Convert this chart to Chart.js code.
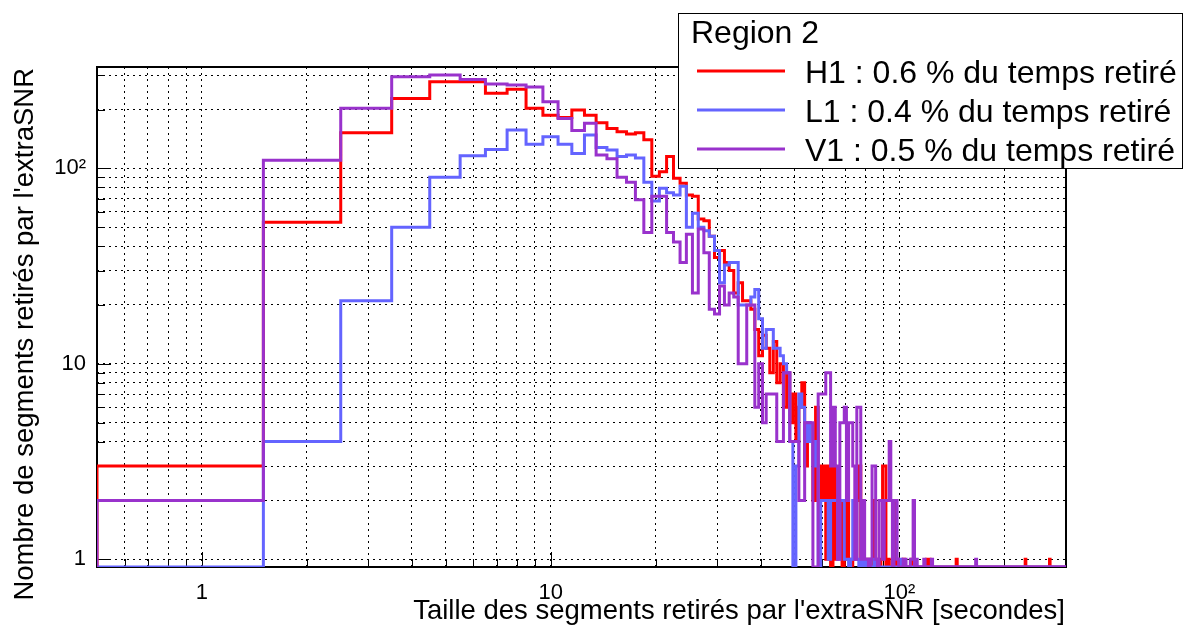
<!DOCTYPE html>
<html lang="fr">
<head>
<meta charset="UTF-8">
<title>Region 2</title>
<script src="https://cdn.jsdelivr.net/npm/chart.js"></script>
<style>
  body { margin: 0; background: #ffffff; }
  #wrap { width: 1183px; height: 628px; }
</style>
</head>
<body>
<div id="wrap"><canvas id="hist"></canvas></div>
<script>
// one bin per second, centred on 1 .. 300 s
const binLow = 0.5;
const binWidth = 1;

const h1Counts = [
  3, 53, 152, 228, 277, 277, 242, 254, 203, 187, 182, 199, 187, 171, 160, 154, 150, 152, 140, 91,
  96, 115, 89, 84, 73, 72, 55, 54, 45, 35, 38, 33, 30, 23, 26, 21, 21, 19, 15, 11,
  14, 12, 9, 13, 8, 10, 6, 9, 5, 7, 4, 6, 8, 3, 5, 4, 2, 6, 3, 2,
  3, 1, 3, 0, 3, 1, 2, 2, 0, 1, 2, 1, 0, 1, 1, 2, 3, 1, 0, 1,
  0, 1, 1, 0, 2, 0, 1, 0, 1, 3, 3, 0, 1, 0, 0, 1, 2, 0, 1, 0,
  0, 0, 1, 0, 0, 0, 0, 0, 1, 0, 0, 0, 0, 0, 0, 0, 0, 0, 0, 1,
  0, 1, 0, 0, 0, 0, 0, 0, 0, 0, 0, 0, 0, 0, 0, 0, 0, 0, 0, 0,
  0, 0, 0, 0, 0, 1, 0, 0, 0, 0, 0, 0, 0, 0, 0, 0, 0, 0, 0, 0,
  0, 0, 0, 0, 0, 0, 0, 0, 0, 0, 0, 0, 0, 0, 0, 0, 0, 0, 0, 0,
  0, 0, 0, 0, 0, 0, 0, 0, 0, 0, 0, 0, 0, 0, 0, 0, 0, 0, 0, 0,
  0, 0, 0, 0, 0, 0, 0, 0, 0, 0, 0, 0, 0, 0, 0, 0, 0, 0, 0, 0,
  0, 0, 0, 0, 0, 0, 0, 0, 0, 1, 0, 0, 0, 0, 0, 0, 0, 0, 0, 0,
  0, 0, 0, 0, 0, 0, 0, 0, 0, 0, 0, 0, 0, 0, 0, 0, 0, 0, 0, 0,
  0, 0, 0, 0, 0, 0, 0, 0, 0, 1, 0, 0, 0, 0, 0, 0, 0, 0, 0, 0,
  0, 0, 0, 0, 0, 0, 0, 0, 0, 0, 0, 0, 0, 0, 0, 0, 0, 0, 0, 0
];

const l1Counts = [
  0, 4, 21, 50, 90, 116, 125, 157, 133, 145, 133, 119, 148, 128, 124, 115, 117, 113, 85, 68,
  79, 75, 73, 81, 50, 59, 50, 48, 45, 38, 26, 32, 33, 33, 20, 20, 20, 22, 24, 17,
  12, 15, 15, 12, 12, 11, 10, 9, 4, 0, 3, 7, 6, 4, 5, 4, 3, 4, 0, 2,
  2, 2, 1, 2, 2, 2, 1, 2, 2, 1, 1, 0, 1, 2, 2, 1, 0, 1, 0, 1,
  0, 1, 0, 0, 1, 0, 0, 0, 0, 0, 0, 0, 0, 0, 0, 0, 0, 0, 0, 0,
  1, 0, 0, 0, 0, 0, 0, 0, 0, 0, 0, 0, 0, 0, 0, 0, 0, 0, 0, 0,
  0, 0, 0, 0, 0, 0, 0, 0, 0, 0, 0, 0, 0, 0, 0, 0, 0, 0, 0, 0,
  0, 0, 0, 0, 0, 0, 0, 0, 0, 0, 0, 0, 0, 0, 0, 0, 0, 0, 0, 0,
  0, 0, 0, 0, 0, 0, 0, 0, 0, 0, 0, 0, 0, 0, 0, 0, 0, 0, 0, 0,
  0, 0, 0, 0, 0, 0, 0, 0, 0, 0, 0, 0, 0, 0, 0, 0, 0, 0, 0, 0,
  0, 0, 0, 0, 0, 0, 0, 0, 0, 0, 0, 0, 0, 0, 0, 0, 0, 0, 0, 0,
  0, 0, 0, 0, 0, 0, 0, 0, 0, 0, 0, 0, 0, 0, 0, 0, 0, 0, 0, 0,
  0, 0, 0, 0, 0, 0, 0, 0, 0, 0, 0, 0, 0, 0, 0, 0, 0, 0, 0, 0,
  0, 0, 0, 0, 0, 0, 0, 0, 0, 0, 0, 0, 0, 0, 0, 0, 0, 0, 0, 0,
  0, 0, 0, 0, 0, 0, 0, 0, 0, 0, 0, 0, 0, 0, 0, 0, 0, 0, 0, 0
];

const v1Counts = [
  2, 110, 203, 294, 300, 285, 270, 267, 261, 219, 180, 156, 170, 117, 112, 90, 85, 69, 47, 72,
  72, 47, 42, 33, 46, 23, 49, 37, 19, 18, 25, 20, 23, 22, 10, 10, 20, 20, 6, 10,
  5, 7, 7, 7, 4, 4, 9, 9, 4, 4, 4, 2, 2, 5, 5, 5, 0, 0, 7, 7,
  7, 9, 9, 3, 6, 3, 1, 5, 5, 6, 2, 5, 5, 3, 1, 6, 6, 1, 2, 1,
  1, 0, 1, 3, 3, 1, 0, 2, 2, 1, 2, 2, 2, 4, 2, 0, 2, 2, 1, 0,
  0, 0, 1, 1, 0, 0, 0, 1, 1, 2, 0, 1, 0, 0, 0, 0, 0, 1, 0, 0,
  0, 0, 0, 1, 0, 0, 0, 0, 0, 0, 0, 0, 0, 0, 0, 0, 0, 0, 0, 0,
  0, 0, 0, 0, 0, 0, 0, 0, 0, 0, 0, 0, 0, 0, 0, 0, 0, 0, 0, 0,
  0, 0, 0, 0, 0, 1, 0, 0, 0, 0, 0, 0, 0, 0, 0, 0, 0, 0, 0, 0,
  0, 0, 0, 0, 0, 0, 0, 0, 0, 0, 0, 0, 0, 0, 0, 0, 0, 0, 0, 0,
  0, 0, 0, 0, 0, 0, 0, 0, 0, 0, 0, 0, 0, 0, 0, 0, 0, 0, 0, 0,
  0, 0, 0, 0, 0, 0, 0, 0, 0, 0, 0, 0, 0, 0, 0, 0, 0, 0, 0, 0,
  0, 0, 0, 0, 0, 0, 0, 0, 0, 0, 0, 0, 0, 0, 0, 0, 0, 0, 0, 0,
  0, 0, 0, 0, 0, 0, 0, 0, 0, 0, 0, 0, 0, 0, 0, 0, 0, 0, 0, 0,
  0, 0, 0, 0, 0, 0, 0, 0, 0, 0, 0, 0, 0, 0, 0, 0, 0, 0, 0, 0
];

const seriesLabels = [
  'H1 : 0.6 % du temps retiré',
  'L1 : 0.4 % du temps retiré',
  'V1 : 0.5 % du temps retiré'
];
const seriesColors = ['#ff0000', '#6464ff', '#9932cc'];
const legendTitle = 'Region 2';

const xGridValues = [0.6, 0.7, 0.8, 0.9, 1, 2, 3, 4, 5, 6, 7, 8, 9, 10, 20, 30, 40, 50, 60, 70, 80, 90, 100, 200, 300];
const yGridValues = [1, 2, 3, 4, 5, 6, 7, 8, 9, 10, 20, 30, 40, 50, 60, 70, 80, 90, 100, 200, 300];
const majorTicks = [1, 10, 100];
const majorLabels = ['1', '10', '10²'];

const xTitle = "Taille des segments retirés par l'extraSNR [secondes]";
const yTitle = "Nombre de segments retirés par l'extraSNR";

const xMin = 0.5, xMax = 300.5;
const yMin = 0.913, yMax = 330;

const FONT = '"Liberation Sans", Arial, Helvetica, sans-serif';
Chart.defaults.font.family = FONT;
Chart.defaults.color = '#000000';

// outline of a histogram: starts and ends on the frame bottom, empty bins sit on it too
function histPoints(counts) {
  const pts = [{ x: binLow, y: yMin }];
  counts.forEach((c, i) => pts.push({ x: binLow + i * binWidth, y: c > 0 ? c : yMin }));
  pts.push({ x: binLow + counts.length * binWidth, y: yMin });
  return pts;
}

function tickLabel(v) {
  const k = majorTicks.indexOf(v);
  return k >= 0 ? majorLabels[k] : '';
}

// frame and inward tick marks go under the histograms; titles and legend on top
const rootStyle = {
  id: 'rootStyle',
  beforeDatasetsDraw(chart) {
    const { ctx, chartArea: a, scales } = chart;
    ctx.save();
    ctx.strokeStyle = '#000';
    ctx.lineWidth = 1;
    ctx.setLineDash([]);
    ctx.beginPath();
    yGridValues.forEach(v => {
      const y = Math.round(scales.y.getPixelForValue(v)) + 0.5;
      const len = majorTicks.includes(v) ? 14 : 8;
      ctx.moveTo(a.left, y);
      ctx.lineTo(a.left + len, y);
    });
    xGridValues.forEach(v => {
      const x = Math.round(scales.x.getPixelForValue(v)) + 0.5;
      const len = majorTicks.includes(v) ? 15 : 8;
      ctx.moveTo(x, a.bottom);
      ctx.lineTo(x, a.bottom - len);
    });
    ctx.stroke();

    ctx.lineWidth = 2;
    ctx.strokeRect(a.left, a.top, a.right - a.left, a.bottom - a.top);
    ctx.restore();
  },
  afterDraw(chart) {
    const { ctx, chartArea: a } = chart;
    ctx.save();
    ctx.fillStyle = '#000';
    ctx.font = '27.5px ' + FONT;
    ctx.textAlign = 'right';
    ctx.textBaseline = 'alphabetic';
    ctx.fillText(xTitle, a.right - 1, 619);

    ctx.save();
    ctx.translate(33, a.top + 1);
    ctx.rotate(-Math.PI / 2);
    ctx.fillText(yTitle, 0, 0);
    ctx.restore();

    // legend box
    const bx = 678.5, by = 13.5, bw = 504, bh = 155;
    ctx.fillStyle = '#fff';
    ctx.fillRect(bx, by, bw, bh);
    ctx.lineWidth = 1;
    ctx.strokeStyle = '#000';
    ctx.strokeRect(bx, by, bw, bh);

    ctx.fillStyle = '#000';
    ctx.textAlign = 'left';
    ctx.font = '32px ' + FONT;
    ctx.fillText(legendTitle, 691, 43);
    const rows = [71, 110, 149];
    seriesLabels.forEach((label, i) => {
      ctx.strokeStyle = seriesColors[i];
      ctx.lineWidth = 3;
      ctx.beginPath();
      ctx.moveTo(697, rows[i]);
      ctx.lineTo(785, rows[i]);
      ctx.stroke();
      ctx.fillStyle = '#000';
      ctx.fillText(label, 805, rows[i] + 12);
    });
    ctx.restore();
  }
};

const gridStyle = {
  color: '#000000',
  lineWidth: 1,
  drawTicks: false
};

new Chart(document.getElementById('hist'), {
  type: 'line',
  data: {
    datasets: [h1Counts, l1Counts, v1Counts].map((counts, i) => ({
      label: seriesLabels[i],
      data: histPoints(counts),
      borderColor: seriesColors[i],
      borderWidth: 3,
      pointRadius: 0,
      stepped: 'before',
      fill: false,
      order: 3 - i
    }))
  },
  options: {
    responsive: true,
    maintainAspectRatio: false,
    animation: false,
    layout: { padding: { top: 67, right: 117, left: 0, bottom: 0 } },
    plugins: { legend: { display: false }, tooltip: { enabled: false } },
    scales: {
      x: {
        type: 'logarithmic',
        min: xMin,
        max: xMax,
        afterBuildTicks: s => { s.ticks = xGridValues.map(v => ({ value: v })); },
        afterFit: s => { s.height = 61; },
        grid: gridStyle,
        border: { display: false, dash: [2, 4] },
        ticks: {
          autoSkip: false,
          maxRotation: 0,
          padding: 13,
          font: { size: 22 },
          callback: v => tickLabel(v)
        }
      },
      y: {
        type: 'logarithmic',
        min: yMin,
        max: yMax,
        afterBuildTicks: s => { s.ticks = yGridValues.map(v => ({ value: v })); },
        afterFit: s => { s.width = 97; },
        grid: gridStyle,
        border: { display: false, dash: [2, 4] },
        ticks: {
          autoSkip: false,
          padding: 11,
          font: { size: 22 },
          callback: v => tickLabel(v)
        }
      }
    }
  },
  plugins: [rootStyle]
});
</script>
</body>
</html>
